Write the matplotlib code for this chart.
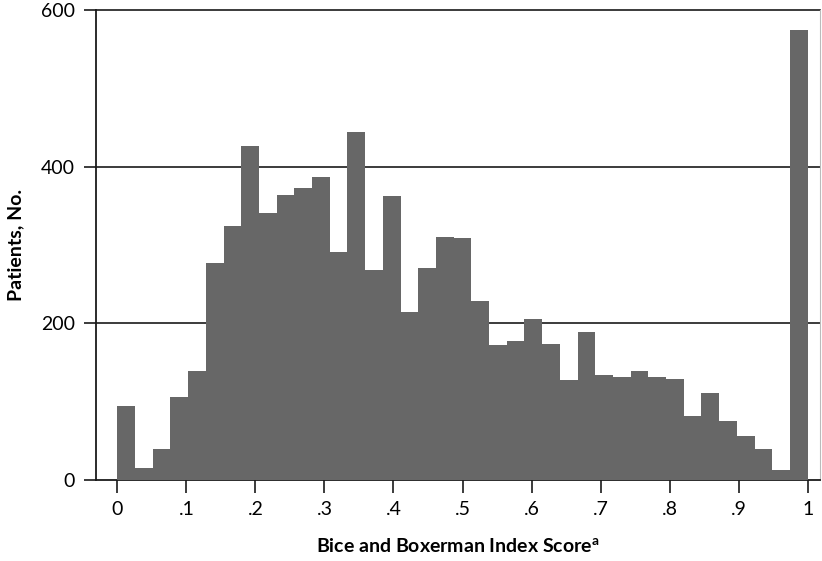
import numpy as np
import matplotlib
matplotlib.use('Agg')
import matplotlib.pyplot as plt

# Bin counts (39 equal bins from 0 to 1)
counts = [95, 15, 40, 106, 139, 277, 324, 427, 341, 364,
          373, 387, 291, 444, 268, 363, 214, 270, 310, 309,
          229, 172, 178, 206, 173, 128, 189, 134, 132, 139,
          131, 129, 82, 111, 75, 56, 39, 13, 574]
n_bins = len(counts)
bin_edges = np.linspace(0, 1, n_bins + 1)

x_ticks = [0, .1, .2, .3, .4, .5, .6, .7, .8, .9, 1]
x_ticklabels = ['0', '.1', '.2', '.3', '.4', '.5', '.6', '.7', '.8', '.9', '1']
y_ticks = [0, 200, 400, 600]

plt.rcParams['font.family'] = ['Lato', 'DejaVu Sans']
plt.rcParams['mathtext.fontset'] = 'custom'
plt.rcParams['mathtext.rm'] = 'Lato'
plt.rcParams['mathtext.bf'] = 'Lato:bold'

fig = plt.figure(figsize=(8.22, 5.61), dpi=100)
ax = fig.add_axes([0.1168, 0.1444, 0.8808, 0.8378])

ax.stairs(counts, bin_edges, fill=True, color='#676767', zorder=3)

ax.set_xlim(-0.031, 1.018)
ax.set_ylim(0, 600)

# horizontal grid lines
for y in y_ticks[1:]:
    ax.axhline(y, color='#1a1a1a', linewidth=1.2, zorder=1, clip_on=False)

ax.set_xticks(x_ticks)
ax.set_xticklabels(x_ticklabels)
ax.set_yticks(y_ticks)
ax.tick_params(axis='both', labelsize=14, length=9, width=1.2, color='#1a1a1a')
ax.tick_params(axis='x', pad=6)
ax.tick_params(axis='y', pad=6)

for side in ['left', 'bottom']:
    ax.spines[side].set_linewidth(1.3)
    ax.spines[side].set_color('#1a1a1a')
ax.spines['top'].set_visible(False)
ax.spines['right'].set_color('#bbbbbb')
ax.spines['right'].set_linewidth(0.8)

ax.set_xlabel(r'Bice and Boxerman Index Score$^{\mathbf{a}}$',
              fontsize=14, fontweight='bold', labelpad=14)
ax.set_ylabel('Patients, No.', fontsize=14, fontweight='bold', labelpad=12)

fig.savefig('out.png', dpi=100)
